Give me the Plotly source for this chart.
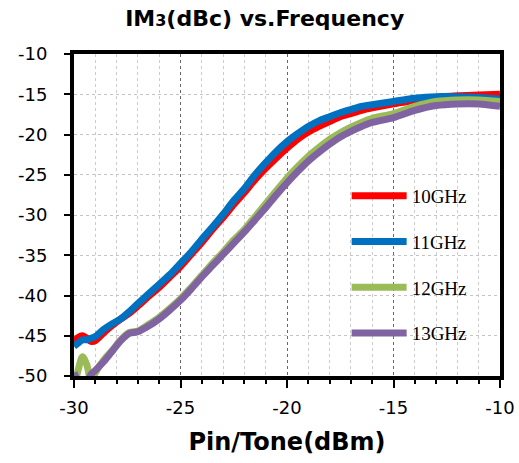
import plotly.graph_objects as go

pin = [-30, -29.8, -29.6, -29.4, -29.2, -29, -28.6, -28.2, -27.8, -27.4, -27, -26.5, -26,
       -25.5, -25, -24.5, -24, -23.5, -23, -22.5, -22, -21.5, -21, -20.5, -20, -19.5, -19,
       -18.5, -18, -17.5, -17, -16.5, -16, -15, -14, -13, -12, -11, -10]

im3_10 = [-45.7, -45.2, -45.0, -45.3, -45.7, -45.6, -44.6, -43.7, -42.9, -42.2, -41.3, -40.1, -39.0,
          -37.7, -36.4, -34.9, -33.4, -31.8, -30.3, -28.7, -27.2, -25.6, -24.2, -22.9, -21.7, -20.6, -19.7,
          -19.0, -18.4, -17.8, -17.4, -17.0, -16.7, -16.2, -15.8, -15.4, -15.2, -15.1, -15.0]
im3_11 = [-46.3, -45.9, -45.5, -45.5, -45.3, -45.1, -44.2, -43.5, -42.9, -42.0, -41.0, -39.8, -38.6,
          -37.4, -36.0, -34.6, -33.0, -31.5, -29.9, -28.2, -26.7, -25.0, -23.5, -22.1, -20.9, -19.9, -19.0,
          -18.3, -17.8, -17.3, -16.9, -16.5, -16.3, -15.9, -15.5, -15.3, -15.3, -15.4, -15.6]
im3_12 = [-51.5, -49.2, -47.6, -48.6, -50.6, -49.6, -48.0, -46.8, -45.5, -44.6, -44.4, -43.6, -42.7,
          -41.6, -40.4, -39.0, -37.5, -36.0, -34.6, -33.1, -31.8, -30.2, -28.6, -27.0, -25.4, -24.0, -22.7,
          -21.6, -20.6, -19.8, -19.1, -18.5, -18.0, -17.4, -16.5, -15.9, -15.7, -15.7, -15.9]
im3_13 = [-49.6, -50.8, -52.0, -51.0, -49.8, -49.3, -48.2, -46.9, -45.6, -44.7, -44.5, -43.8, -42.9,
          -41.8, -40.6, -39.2, -37.7, -36.3, -34.9, -33.5, -32.1, -30.6, -29.1, -27.5, -26.0, -24.6, -23.3,
          -22.2, -21.2, -20.3, -19.6, -19.0, -18.5, -17.9, -17.0, -16.4, -16.2, -16.2, -16.5]

names = ["10GHz", "11GHz", "12GHz", "13GHz"]
series = [im3_10, im3_11, im3_12, im3_13]
colors = ["#ff0000", "#0070c0", "#9bbb59", "#8064a2"]

x_ticks = [-30, -25, -20, -15, -10]
y_ticks = [-50, -45, -40, -35, -30, -25, -20, -15, -10]

fig = go.Figure()
for i, (n, s, c) in enumerate(zip(names, series, colors)):
    fig.add_trace(go.Scatter(x=pin, y=s, name=n, mode="lines",
                             line=dict(color=c, width=7, shape="spline", smoothing=0.8),
                             legendgroup=n))

fig.update_layout(
    width=519, height=463,
    margin=dict(l=74, r=19, t=54, b=87),
    paper_bgcolor="white", plot_bgcolor="white",
    title=dict(text="IM<span style='font-size:16px'>3</span>(dBc) vs.Frequency",
               x=0.51, xanchor="center", y=0.961, yanchor="middle", xref="container", yref="container",
               font=dict(family="DejaVu Sans", size=22, color="black", weight="bold")),
    showlegend=True,
    legend=dict(x=0.64, y=0.618, xanchor="left", yanchor="top", bgcolor="rgba(0,0,0,0)",
                font=dict(family="Liberation Serif", size=19, color="black"),
                tracegroupgap=18, itemwidth=55),
    xaxis=dict(range=[-30, -10], tickvals=x_ticks, ticktext=[str(v) for v in x_ticks],
               automargin=False,
               ticks="outside", ticklen=8, tickwidth=2, tickcolor="black",
               showline=True, linewidth=4, linecolor="black", mirror=True,
               showgrid=True, gridcolor="#666666", griddash="3px,3px", gridwidth=1,
               zeroline=False, ticklabelstandoff=4,
               tickfont=dict(family="DejaVu Sans", size=18, color="black"),
               title=dict(text="Pin/Tone(dBm)", standoff=18,
                          font=dict(family="DejaVu Sans", size=24, color="black", weight="bold")),
               minor=dict(dtick=1, tick0=-30, ticks="outside", ticklen=4, tickwidth=1.5,
                          tickcolor="black", showgrid=True, gridcolor="#cccccc",
                          griddash="3px,3px", gridwidth=1)),
    yaxis=dict(range=[-50, -10], tickvals=y_ticks, ticktext=[str(v) for v in y_ticks],
               automargin=False,
               ticks="outside", ticklen=6, tickwidth=2, tickcolor="black",
               showline=True, linewidth=4, linecolor="black", mirror=True,
               showgrid=True, gridcolor="#c4c4c4", griddash="3px,3px", gridwidth=1,
               zeroline=False, ticklabelstandoff=13,
               tickfont=dict(family="DejaVu Sans", size=18, color="black")),
)

fig.write_html("out.html")
